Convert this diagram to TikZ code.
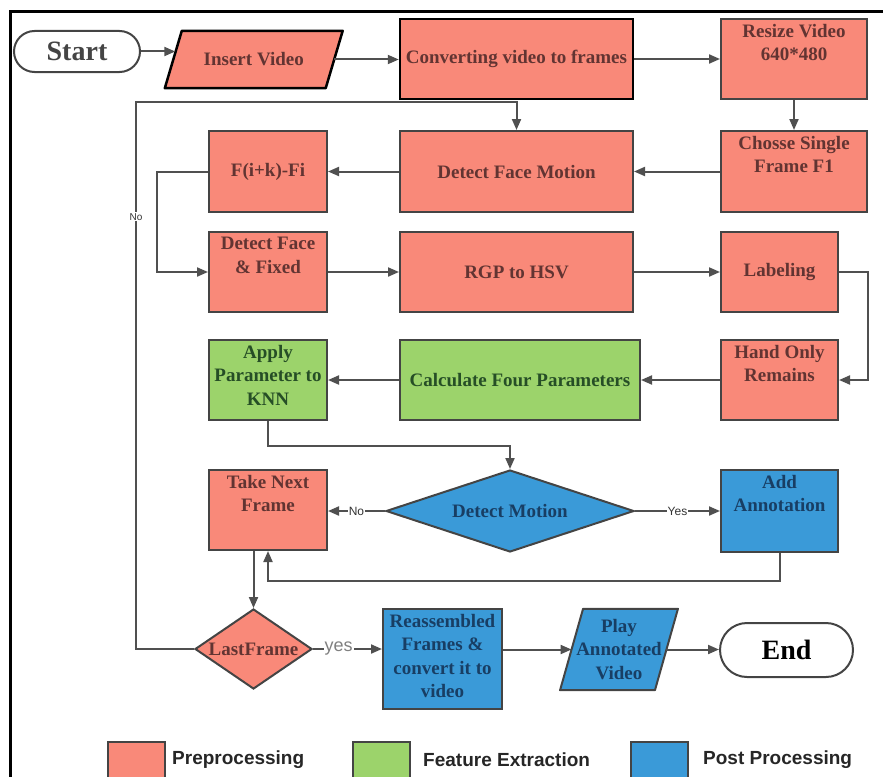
\documentclass[tikz,border=0pt]{standalone}
\usepackage{fontspec}
\setmainfont{Liberation Serif}
\newfontfamily\lsans{Liberation Sans}
\usetikzlibrary{arrows.meta,shapes.geometric,shapes.misc,calc,backgrounds}
\definecolor{pinkf}{RGB}{249,137,121}
\definecolor{greenf}{RGB}{156,211,107}
\definecolor{bluef}{RGB}{58,154,216}
\definecolor{bord}{RGB}{68,68,68}
\definecolor{pinkt}{RGB}{98,52,50}
\definecolor{greent}{RGB}{38,78,38}
\definecolor{bluet}{RGB}{24,62,100}
\definecolor{linec}{RGB}{80,80,80}
\newcommand\boxfont{\bfseries\fontsize{19}{23.5}\selectfont}
\tikzset{
  box/.style={draw=bord, line width=2pt, rectangle, inner sep=2pt, align=center, font=\boxfont},
  pbox/.style={box, fill=pinkf, text=pinkt},
  gbox/.style={box, fill=greenf, text=greent},
  bbox/.style={box, fill=bluef, text=bluet},
  toplbl/.style={anchor=north, label distance=-6pt, inner sep=0pt, align=center, font=\boxfont, text=#1},
  dlbl/.style={inner sep=0pt, font=\boxfont, text=#1},
  dia/.style={diamond, draw=bord, line width=2pt, inner sep=0pt},
  para/.style={rectangle, inner sep=0pt, align=center, font=\boxfont},
  term/.style={rounded rectangle, draw=bord, line width=2pt, fill=white, inner sep=0pt,
    font=\bfseries\fontsize{28}{28}\selectfont},
  arr/.style={draw=linec, line width=2pt, -{Triangle[length=11pt,width=9pt]}},
  smalllbl/.style={fill=white, inner sep=1pt, font=\lsans\fontsize{12}{12}\selectfont, text=black!80},
  lsq/.style={draw=bord, line width=2pt, minimum width=57pt, minimum height=40pt, inner sep=0pt},
  legtxt/.style={anchor=west, inner sep=0pt, font=\lsans\bfseries\fontsize{19}{19}\selectfont, text=black!85}
}
\begin{document}
\begin{tikzpicture}[x=1pt,y=-1pt]
\useasboundingbox (0,0) rectangle (883,776);
\begin{scope}
\clip (0,0) rectangle (883,776);
\draw[line width=3pt, black] (10,800) -- (10,12) -- (900,12);
% legend
\node[lsq, fill=pinkf] (lp) at (136.5,762) {};
\node[legtxt] (lpt) at (172,760) {Preprocessing};
\node[lsq, fill=greenf] (lg) at (381.5,762) {};
\node[legtxt] (lgt) at (423,760) {Feature Extraction};
\node[lsq, fill=bluef] (lb) at (659,762) {};
\node[legtxt] (lbt) at (703,760) {Post Processing};
\end{scope}

% nodes
\node[term, minimum width=126pt, minimum height=41pt, text=bord] (start) at (77,51.5) {Start};
\node[para, text=pinkt, minimum width=160.5pt, minimum height=57pt] (insert) at (253.75,59.5) {Insert Video};
\node[pbox, draw=black, line width=2.5pt, minimum width=233pt, minimum height=80pt] (conv) at (516.5,59) {Converting video to frames};
\node[pbox, minimum width=146pt, minimum height=80pt, label={[toplbl=pinkt]north:Resize Video\\640*480}] (resize) at (794,59) {};
\node[pbox, minimum width=146pt, minimum height=81pt, label={[toplbl=pinkt]north:Chosse Single\\Frame F1}] (chosse) at (794,171.5) {};
\node[pbox, minimum width=233pt, minimum height=81pt] (dfm) at (516.5,171.5) {Detect Face Motion};
\node[pbox, minimum width=118pt, minimum height=81pt] (fik) at (268,171.5) {F(i+k)-Fi};
\node[pbox, minimum width=118pt, minimum height=80pt, label={[toplbl=pinkt]north:Detect Face\\\& Fixed}] (dff) at (268,272) {};
\node[pbox, minimum width=233pt, minimum height=80pt] (rgp) at (516.5,272) {RGP to HSV};
\node[pbox, minimum width=117pt, minimum height=80pt] (lab) at (779.5,272) {Labeling};
\node[pbox, minimum width=117pt, minimum height=80pt, label={[toplbl=pinkt]north:Hand Only\\Remains}] (hand) at (779.5,380) {};
\node[gbox, minimum width=240pt, minimum height=80pt] (calc) at (520,380) {Calculate Four Parameters};
\node[gbox, minimum width=118pt, minimum height=80pt, label={[toplbl=greent]north:Apply\\Parameter to\\KNN}] (apply) at (268,380) {};
\node[pbox, minimum width=118pt, minimum height=80pt, label={[toplbl=pinkt]north:Take Next\\Frame}] (take) at (268,510) {};
\node[dia, fill=bluef, minimum width=248pt, minimum height=82pt, label={[dlbl=bluet]center:Detect Motion}] (dm) at (510,511) {};
\node[bbox, minimum width=117pt, minimum height=82pt, label={[toplbl=bluet]north:Add\\Annotation}] (add) at (779.5,511) {};
\node[dia, fill=pinkf, minimum width=117pt, minimum height=80pt, label={[dlbl=pinkt]center:LastFrame}] (last) at (253.5,649) {};
\node[bbox, minimum width=119pt, minimum height=100pt, label={[toplbl=bluet]north:Reassembled\\Frames \&\\convert it to\\video}] (reas) at (442.5,659) {};
\node[para, text=bluet, minimum width=94.5pt, minimum height=81pt] (play) at (619,649.5) {Play\\Annotated\\Video};
\node[term, minimum width=133pt, minimum height=54pt, text=black] (end) at (786.5,650) {End};

% parallelogram outlines
\begin{scope}[on background layer]
\draw[fill=pinkf, draw=black, line width=2.5pt, line join=round]
  ($(insert.north west)+(8.5,0)$) -- ($(insert.north east)+(8.5,0)$)
  -- ($(insert.south east)+(-8.5,0)$) -- ($(insert.south west)+(-8.5,0)$) -- cycle;
\draw[fill=bluef, draw=bord, line width=2pt, line join=round]
  ($(play.north west)+(11.5,0)$) -- ($(play.north east)+(11.5,0)$)
  -- ($(play.south east)+(-11.5,0)$) -- ($(play.south west)+(-11.5,0)$) -- cycle;
\end{scope}

% connectors
\draw[arr] (start.east) -- ($(start.east -| insert.west)+(2,0)$);
\draw[arr] (insert.east) -- (insert.east -| conv.west);
\draw[arr] (conv.east) -- (conv.east -| resize.west);
\draw[arr] (resize.south) -- (chosse.north);
\draw[arr] (chosse.west) -- (dfm.east);
\draw[arr] (dfm.west) -- (fik.east);
\draw[arr] (fik.west) -- ++(-51,0) |- (dff.west);
\draw[arr] (dff.east) -- (rgp.west);
\draw[arr] (rgp.east) -- (lab.west);
\draw[arr] (lab.east) -- ++(29,0) |- (hand.east);
\draw[arr] (hand.west) -- (calc.east);
\draw[arr] (calc.west) -- (apply.east);
\draw[arr] (apply.south) -- ++(0,25) -| (dm.north);
\draw[arr] (dm.west) -- (dm.west -| take.east) node[midway, smalllbl] {No};
\draw[arr] (dm.east) -- (dm.east -| add.west) node[midway, smalllbl] {Yes};
\draw[arr] (add.south) -- ++(0,28) -| (take.south);
\draw[arr] (take.south -| last.north) -- (last.north);
\draw[arr] (last.east) -- (last.east -| reas.west) node[pos=0.37, fill=white, inner sep=1pt, font=\lsans\fontsize{18}{18}\selectfont, text=black!50] {yes};
\draw[arr] (last.west) -- ++(-58,0) |- ($(dfm.north)+(0,-28)$) node[pos=0.395, smalllbl, font=\lsans\fontsize{10}{10}\selectfont] {No} -- (dfm.north);
\draw[arr] (reas.east |- play.west) -- (play.west);
\draw[arr] (play.east) -- (play.east -| end.west);
\end{tikzpicture}
\end{document}
